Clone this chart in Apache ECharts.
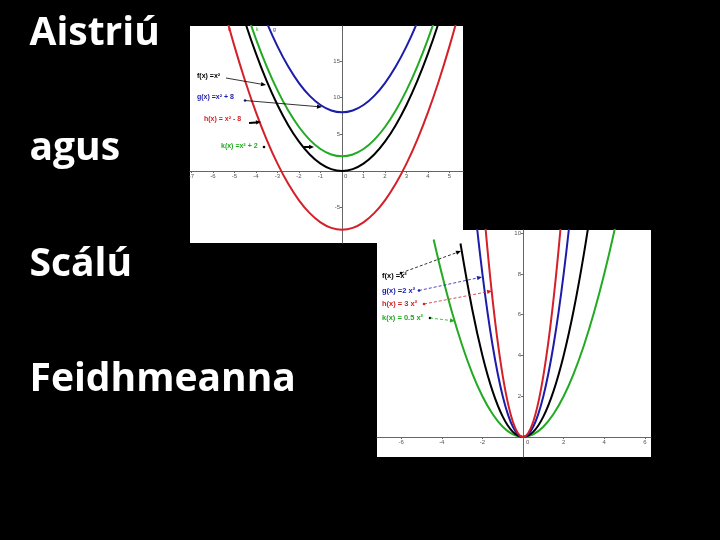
<!DOCTYPE html>
<html><head><meta charset="utf-8">
<script src="https://cdn.jsdelivr.net/npm/echarts@6/dist/echarts.min.js"></script>
<style>html,body{margin:0;padding:0;background:#000}#c{width:720px;height:540px}</style>
</head><body><div id="c"></div>
<script>
// ---- titles ----
const titleLines = ['Aistriú', 'agus', 'Scálú', 'Feidhmeanna'];

// ---- panel 1 (translations) ----
const p1X = [-5.5,-5,-4.5,-4,-3.5,-3,-2.5,-2,-1.5,-1,-0.5,0,0.5,1,1.5,2,2.5,3,3.5,4,4.5,5,5.5];
const p1F = [30.25,25,20.25,16,12.25,9,6.25,4,2.25,1,0.25,0,0.25,1,2.25,4,6.25,9,12.25,16,20.25,25,30.25];
const p1G = [38.25,33,28.25,24,20.25,17,14.25,12,10.25,9,8.25,8,8.25,9,10.25,12,14.25,17,20.25,24,28.25,33,38.25];
const p1H = [22.25,17,12.25,8,4.25,1,-1.75,-4,-5.75,-7,-7.75,-8,-7.75,-7,-5.75,-4,-1.75,1,4.25,8,12.25,17,22.25];
const p1K = [32.25,27,22.25,18,14.25,11,8.25,6,4.25,3,2.25,2,2.25,3,4.25,6,8.25,11,14.25,18,22.25,27,32.25];
const p1XTicks = [-7,-6,-5,-4,-3,-2,-1,1,2,3,4,5];
const p1YTicks = [-5,5,10,15];
const p1Labels = ['f(x) =x²', 'g(x) =x² + 8', 'h(x) = x² - 8', 'k(x) =x² + 2'];

// ---- panel 2 (scaling) ----
const p2FX = [-3.08,-2.5,-2,-1.5,-1,-0.5,0,0.5,1,1.5,2,2.5,3,3.5];
const p2F  = [9.49,6.25,4,2.25,1,0.25,0,0.25,1,2.25,4,6.25,9,12.25];
const p2GX = [-2.5,-2.25,-2,-1.75,-1.5,-1.25,-1,-0.75,-0.5,-0.25,0,0.25,0.5,0.75,1,1.25,1.5,1.75,2,2.25,2.5];
const p2G  = [12.5,10.125,8,6.125,4.5,3.125,2,1.125,0.5,0.125,0,0.125,0.5,1.125,2,3.125,4.5,6.125,8,10.125,12.5];
const p2HX = [-2,-1.75,-1.5,-1.25,-1,-0.75,-0.5,-0.25,0,0.25,0.5,0.75,1,1.25,1.5,1.75,2];
const p2H  = [12,9.1875,6.75,4.6875,3,1.6875,0.75,0.1875,0,0.1875,0.75,1.6875,3,4.6875,6.75,9.1875,12];
const p2KX = [-4.4,-4,-3.5,-3,-2.5,-2,-1.5,-1,-0.5,0,0.5,1,1.5,2,2.5,3,3.5,4,4.5,5];
const p2K  = [9.68,8,6.125,4.5,3.125,2,1.125,0.5,0.125,0,0.125,0.5,1.125,2,3.125,4.5,6.125,8,10.125,12.5];
const p2XTicks = [-6,-4,-2,2,4,6];
const p2YTicks = [2,4,6,8,10];
const p2Labels = ['f(x) =x²', 'g(x) =2 x²', 'h(x) = 3 x²', 'k(x) = 0.5 x²'];

const BLACK = '#000000', BLUE = '#1c1caa', RED = '#d42028', GREEN = '#22aa22';
const pair = (xs, ys) => xs.map((x, i) => [x, ys[i]]);

const chart = echarts.init(document.getElementById('c'));

// grid boxes and axis ranges
const G2 = { left: 377, top: 230, width: 274, height: 227, xMin: -7.19, xMax: 6.3, yMin: -0.98, yMax: 10.15 };
const G1 = { left: 190, top: 26, width: 273, height: 217, xMin: -7.07, xMax: 5.63, yMin: -9.82, yMax: 19.78 };

function xAxisFor(g, gi, ticks) {
  // place the axis through y = 0 by offsetting it up from the grid's bottom edge
  const off = -g.height * (0 - g.yMin) / (g.yMax - g.yMin);
  return {
    type: 'value', gridIndex: gi, min: g.xMin, max: g.xMax, position: 'bottom', offset: off,
    splitLine: { show: false },
    axisLine: { onZero: false, lineStyle: { color: '#666', width: 1 } },
    axisTick: { show: true, length: 2, customValues: ticks, lineStyle: { color: '#666' } },
    axisLabel: { customValues: ticks, fontSize: 6, color: '#555', margin: 2, fontFamily: 'Liberation Sans' }
  };
}
function yAxisFor(g, gi, ticks) {
  const off = -g.width * (0 - g.xMin) / (g.xMax - g.xMin);
  return {
    type: 'value', gridIndex: gi, min: g.yMin, max: g.yMax, position: 'left', offset: off,
    splitLine: { show: false },
    axisLine: { onZero: false, lineStyle: { color: '#666', width: 1 } },
    axisTick: { show: true, length: 2, customValues: ticks, lineStyle: { color: '#666' } },
    axisLabel: { customValues: ticks, fontSize: 6, color: '#555', margin: 2, fontFamily: 'Liberation Sans' }
  };
}
function line(xi, yi, data, color) {
  return { type: 'line', xAxisIndex: xi, yAxisIndex: yi, data: data, showSymbol: false, smooth: 0.4,
    clip: true, lineStyle: { color: color, width: 2 }, itemStyle: { color: color }, silent: true };
}
function txt(x, y, s, color, size, weight) {
  return { type: 'text', x: x, y: y, z: 100,
    style: { text: s, fill: color, font: (weight || 'bold') + ' ' + size + 'px "Liberation Sans"', verticalAlign: 'middle' } };
}
function arrow(x1, y1, x2, y2, color, dashed, width) {
  const ang = Math.atan2(y2 - y1, x2 - x1), L = 5, W = 2.2;
  const bx = x2 - L * Math.cos(ang), by = y2 - L * Math.sin(ang);
  const px = -Math.sin(ang) * W, py = Math.cos(ang) * W;
  return [
    { type: 'line', z: 100, shape: { x1: x1, y1: y1, x2: bx, y2: by },
      style: { stroke: color, lineWidth: width || 1, lineDash: dashed ? [3, 2] : null } },
    { type: 'polygon', z: 100, shape: { points: [[x2, y2], [bx + px, by + py], [bx - px, by - py]] }, style: { fill: color } }
  ];
}
function dot(x, y, color) { return { type: 'circle', z: 100, shape: { cx: x, cy: y, r: 1.3 }, style: { fill: color } }; }

const graphics = [];
// left titles
const tY = [34, 149.3, 264.7, 380];
titleLines.forEach((t, i) => graphics.push({ type: 'text', x: 29.5, y: tY[i], z: 100,
  style: { text: t, fill: '#ffffff', font: 'bold 39px "Open Sans"', verticalAlign: 'middle' } }));

// panel 1 annotations
graphics.push(txt(197, 76, p1Labels[0], BLACK, 7));
graphics.push(txt(197, 97, p1Labels[1], BLUE, 7));
graphics.push(txt(204, 119, p1Labels[2], RED, 7));
graphics.push(txt(221, 146.5, p1Labels[3], GREEN, 7));
graphics.push(...arrow(226, 78, 266, 85, BLACK, false, 0.8));
graphics.push(dot(245, 100.5, BLUE));
graphics.push(...arrow(245, 100.5, 322, 107, BLACK, false, 0.8));
graphics.push(...arrow(249, 123, 261, 122, BLACK, false, 2));
graphics.push(dot(264, 147, BLACK));
graphics.push(...arrow(304, 147, 314, 147, BLACK, false, 2));
graphics.push(txt(228, 30, 'h', RED, 5, 'normal'));
graphics.push(txt(256, 30, 'k', GREEN, 5, 'normal'));
graphics.push(txt(273, 30, 'g', BLUE, 5, 'normal'));
graphics.push(txt(344, 176, '0', '#555', 6, 'normal'));

// panel 2 annotations
graphics.push(txt(382, 276, p2Labels[0], BLACK, 7.5));
graphics.push(txt(382, 290.5, p2Labels[1], BLUE, 7.5));
graphics.push(txt(382, 304, p2Labels[2], RED, 7.5));
graphics.push(txt(382, 317.5, p2Labels[3], GREEN, 7.5));
graphics.push(dot(401, 273, BLACK));
graphics.push(...arrow(401, 273, 461, 251, BLACK, true, 0.8));
graphics.push(dot(419, 290.5, BLUE));
graphics.push(...arrow(419, 290.5, 482, 277, BLUE, true, 0.8));
graphics.push(dot(424, 304, RED));
graphics.push(...arrow(424, 304, 492, 291, RED, true, 0.8));
graphics.push(dot(430, 318, BLACK));
graphics.push(...arrow(430, 318, 455, 321, GREEN, true, 0.8));
graphics.push(txt(526, 442, '0', '#555', 6, 'normal'));

chart.setOption({
  backgroundColor: '#000000',
  animation: false,
  grid: [
    { left: G2.left, top: G2.top, width: G2.width, height: G2.height, show: true, backgroundColor: '#ffffff', borderWidth: 0 },
    { left: G1.left, top: G1.top, width: G1.width, height: G1.height, show: true, backgroundColor: '#ffffff', borderWidth: 0 }
  ],
  xAxis: [ xAxisFor(G2, 0, p2XTicks), xAxisFor(G1, 1, p1XTicks) ],
  yAxis: [ yAxisFor(G2, 0, p2YTicks), yAxisFor(G1, 1, p1YTicks) ],
  series: [
    line(0, 0, pair(p2KX, p2K), GREEN),
    line(0, 0, pair(p2FX, p2F), BLACK),
    line(0, 0, pair(p2GX, p2G), BLUE),
    line(0, 0, pair(p2HX, p2H), RED),
    line(1, 1, pair(p1X, p1H), RED),
    line(1, 1, pair(p1X, p1F), BLACK),
    line(1, 1, pair(p1X, p1K), GREEN),
    line(1, 1, pair(p1X, p1G), BLUE)
  ],
  graphic: graphics
});
</script></body></html>
